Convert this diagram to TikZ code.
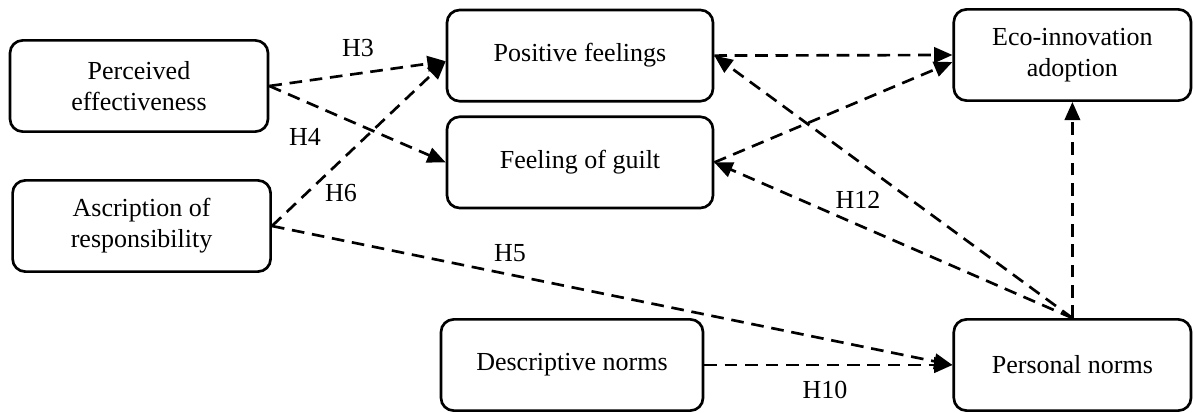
\documentclass[tikz,border=0pt]{standalone}
\usepackage{fontspec}
\setmainfont{Liberation Serif}
\usetikzlibrary{arrows.meta}

\begin{document}
\begin{tikzpicture}[
  box/.style={draw,line width=1.9pt,rounded corners=9pt,align=center,font=\fontsize{18.5}{22}\selectfont,
    minimum width=#1,minimum height=2.28cm,inner sep=2pt},
  box/.default=6.45cm,
  hyp/.style={line width=1.9pt,dash pattern=on 9pt off 5.5pt,-{Triangle[length=13pt,width=11pt]}},
  lab/.style={font=\fontsize{18.5}{22}\selectfont,inner sep=1pt}]
\useasboundingbox (0,0) rectangle (29.825,10.3);
\node[box] (PE) at (3.475,8.15) {Perceived\\effectiveness};
\node[box] (AR) at (3.54,4.65) {Ascription of\\responsibility};
\node[box=6.65cm] (PF) at (14.5,8.91) {Positive feelings};
\node[box=6.65cm] (FG) at (14.5,6.24) {Feeling of guilt};
\node[box=6.55cm] (DN) at (14.3,1.175) {Descriptive norms};
\node[box=5.93cm] (EI) at (26.81,8.925) {Eco-innovation\\adoption};
\node[box=5.93cm] (PN) at (26.81,1.175) {Personal norms};
\draw[hyp] (PE.east) -- ([yshift=-4pt]PF.west);
\draw[hyp] (PE.east) -- (FG.west);
\draw[hyp] (AR.east) -- ([yshift=-4pt]PF.west);
\draw[hyp] (AR.east) -- (PN.west);
\draw[hyp] (DN.east) -- (PN.west);
\draw[hyp] (PF.east) -- (EI.west);
\draw[hyp] (FG.east) -- ([yshift=-5pt]EI.west);
\draw[hyp] (PN.north) -- (PF.east);
\draw[hyp] (PN.north) -- (FG.east);
\draw[hyp] (PN.north) -- (EI.south);
\node[lab] (lH3) at (8.95,9.1) {H3};
\node[lab] (lH4) at (7.625,6.875) {H4};
\node[lab] (lH6) at (8.525,5.475) {H6};
\node[lab] (lH5) at (12.75,3.975) {H5};
\node[lab] (lH12) at (21.45,5.3) {H12};
\node[lab] (lH10) at (20.625,0.55) {H10};
\end{tikzpicture}
\end{document}
